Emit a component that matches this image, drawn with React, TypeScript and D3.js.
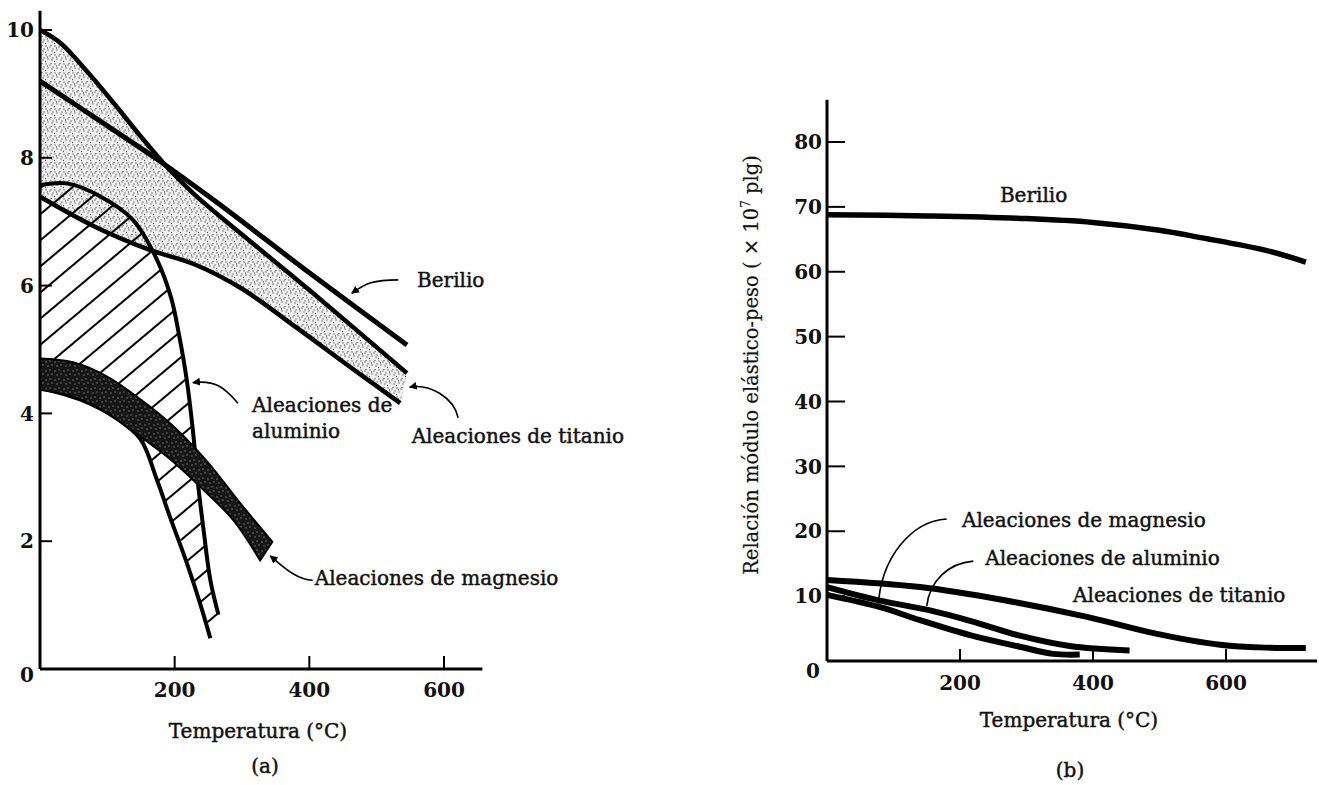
import React from "react";
import * as d3 from "d3";

// ---------- Panel (a) data: temperature (°C) vs ratio ----------
const tempTicksA = [200, 400, 600];
const ratioTicksA = [2, 4, 6, 8, 10];
const berilioA: [number, number][] = [[0, 9.2], [100, 8.5], [175, 7.97], [263, 7.3], [400, 6.2], [545, 5.07]];
const titanioUpperA: [number, number][] = [[0, 10.0], [30, 9.8], [70, 9.35], [110, 8.85], [150, 8.33], [190, 7.84], [230, 7.42], [300, 6.8], [400, 5.93], [545, 4.63]];
const titanioLowerA: [number, number][] = [[0, 7.39], [80, 6.93], [160, 6.57], [230, 6.33], [300, 5.95], [380, 5.35], [460, 4.73], [535, 4.16]];
const aluminioUpperA: [number, number][] = [[0, 7.57], [40, 7.6], [89, 7.4], [138, 7.03], [174, 6.4], [195, 5.8], [207, 5.2], [218, 4.52], [227, 3.74], [234, 2.96], [243, 2.17], [253, 1.39], [265, 0.85]];
const aluminioLowerA: [number, number][] = [[0, 4.4], [64, 4.2], [114, 3.92], [149, 3.6], [174, 2.95], [193, 2.38], [218, 1.66], [240, 0.95], [253, 0.48]];
const magnesioUpperA: [number, number][] = [[0, 4.86], [49, 4.8], [99, 4.58], [149, 4.22], [198, 3.8], [248, 3.25], [297, 2.6], [345, 1.99]];
const magnesioLowerA: [number, number][] = [[0, 4.37], [49, 4.26], [99, 4.01], [138, 3.72], [189, 3.32], [238, 2.85], [287, 2.33], [327, 1.7]];

// ---------- Panel (b) data ----------
const tempTicksB = [200, 400, 600];
const ratioTicksB = [10, 20, 30, 40, 50, 60, 70, 80];
const berilioB: [number, number][] = [[0, 68.8], [150, 68.6], [300, 68.2], [400, 67.6], [500, 66.4], [560, 65.3], [660, 63.3], [720, 61.5]];
const titanioB: [number, number][] = [[0, 12.5], [140, 11.4], [265, 9.4], [391, 6.8], [491, 4.3], [591, 2.5], [650, 2.1], [720, 2.0]];
const aluminioB: [number, number][] = [[0, 11.4], [80, 9.3], [155, 7.8], [215, 6.2], [290, 3.9], [365, 2.3], [455, 1.6]];
const magnesioB: [number, number][] = [[0, 10.2], [80, 8.3], [140, 6.3], [215, 4.0], [290, 2.2], [340, 1.1], [380, 1.0]];

const FONT = "'DejaVu Serif', 'Liberation Serif', serif";

export default function App() {
  const W = 1319, H = 785;
  const xA = d3.scaleLinear().domain([0, 600]).range([40, 444]);
  const yA = d3.scaleLinear().domain([0, 10]).range([669, 30]);
  const xB = d3.scaleLinear().domain([0, 600]).range([827, 1226]);
  const yB = d3.scaleLinear().domain([0, 80]).range([661, 142]);

  const gen = (xs: any, ys: any) =>
    d3.line<[number, number]>().x((d) => xs(d[0])).y((d) => ys(d[1])).curve(d3.curveCatmullRom.alpha(0.5));
  const lA = gen(xA, yA);
  const lB = gen(xB, yB);
  const band = (up: [number, number][], lo: [number, number][]) => {
    const a = lA(up) as string;
    const b = lA([...lo].reverse()) as string;
    return a + "L" + b.slice(1) + "Z";
  };

  // stipple dots (fixed texture tile)
  const stipDots = [[1, 1], [5, 2], [3, 5], [7, 6], [0.5, 7.5], [6, 0.5], [2.5, 3], [8, 4]];
  const speckDots = [[1, 2], [5, 1], [3, 6], [7, 5]];

  const leader = (xs: any, ys: any, from: [number, number], to: [number, number], c1: [number, number], c2: [number, number]) => {
    const fx = xs(from[0]), fy = ys(from[1]), tx = xs(to[0]), ty = ys(to[1]);
    return `M${fx},${fy} C${fx + c1[0]},${fy + c1[1]} ${tx + c2[0]},${ty + c2[1]} ${tx},${ty}`;
  };

  const txt = { fontFamily: FONT, fontSize: 20, fill: "#111", stroke: "#111", strokeWidth: 0.45 } as any;
  const tick = { fontFamily: FONT, fontSize: 20, fontWeight: "bold", fill: "#111" } as any;

  return (
    <svg width={W} height={H} style={{ position: "absolute", left: 0, top: 0, background: "#fff" }}>
      <defs>
        <pattern id="stip" width={9} height={9} patternUnits="userSpaceOnUse">
          <rect width={9} height={9} fill="#f0f0f0" />
          {stipDots.map((d, i) => (
            <circle key={i} cx={d[0]} cy={d[1]} r={0.65} fill="#555" />
          ))}
        </pattern>
        <pattern id="hatch" width={20} height={20} patternUnits="userSpaceOnUse" patternTransform="rotate(-40)">
          <line x1={0} y1={10} x2={20} y2={10} stroke="#000" strokeWidth={2} />
        </pattern>
        <pattern id="speck" width={9} height={9} patternUnits="userSpaceOnUse">
          <rect width={9} height={9} fill="#161616" />
          {speckDots.map((d, i) => (
            <circle key={i} cx={d[0]} cy={d[1]} r={0.7} fill="#8a8a8a" />
          ))}
        </pattern>
        <marker id="arr" viewBox="0 0 10 10" refX={9} refY={5} markerWidth={8} markerHeight={8} markerUnits="userSpaceOnUse" orient="auto">
          <path d="M0,0 L10,5 L0,10 z" fill="#000" />
        </marker>
      </defs>

      {/* ================= Panel (a) ================= */}
      <g>
        <path d={band(titanioUpperA, titanioLowerA)} fill="url(#stip)" />
        <path d={band(aluminioUpperA, aluminioLowerA)} fill="url(#hatch)" />
        <path d={lA(titanioUpperA) as string} fill="none" stroke="#000" strokeWidth={4.5} />
        <path d={lA(titanioLowerA) as string} fill="none" stroke="#000" strokeWidth={4.5} />
        <path d={lA(aluminioUpperA) as string} fill="none" stroke="#000" strokeWidth={4} />
        <path d={lA(aluminioLowerA) as string} fill="none" stroke="#000" strokeWidth={4} />
        <path d={band(magnesioUpperA, magnesioLowerA)} fill="url(#speck)" stroke="#000" strokeWidth={2} />
        <path d={lA(berilioA) as string} fill="none" stroke="#000" strokeWidth={5} />

        <line x1={xA(0)} y1={yA(10.3)} x2={xA(0)} y2={yA(0)} stroke="#000" strokeWidth={3} />
        <line x1={xA(0)} y1={yA(0)} x2={xA(657)} y2={yA(0)} stroke="#000" strokeWidth={3} />
        {ratioTicksA.map((t) => (
          <g key={t}>
            <line x1={xA(0)} x2={xA(0) + 12} y1={yA(t)} y2={yA(t)} stroke="#000" strokeWidth={2} />
            <text x={34} y={yA(t)} dy="0.36em" textAnchor="end" {...tick}>{t}</text>
          </g>
        ))}
        {tempTicksA.map((t) => (
          <g key={t}>
            <line x1={xA(t)} x2={xA(t)} y1={yA(0)} y2={yA(0) - 13} stroke="#000" strokeWidth={2} />
            <text x={xA(t)} y={697} textAnchor="middle" {...tick}>{t}</text>
          </g>
        ))}
        <text x={27} y={682} textAnchor="middle" {...tick}>0</text>
        <text x={258} y={738} textAnchor="middle" {...txt}>Temperatura (°C)</text>
        <text x={265} y={773} textAnchor="middle" {...txt}>(a)</text>

        <text x={xA(560)} y={yA(5.98)} {...txt}>Berilio</text>
        <path d={leader(xA, yA, [532, 6.09], [463, 5.88], [-25, 0], [14, -10])} fill="none" stroke="#000" strokeWidth={1.6} markerEnd="url(#arr)" />
        <text x={xA(315)} y={yA(4.02)} {...txt}>Aleaciones de</text>
        <text x={xA(315)} y={yA(3.61)} {...txt}>aluminio</text>
        <path d={leader(xA, yA, [294, 4.16], [227, 4.48], [-14, -16], [22, -3])} fill="none" stroke="#000" strokeWidth={1.6} markerEnd="url(#arr)" />
        <text x={xA(552)} y={yA(3.54)} {...txt}>Aleaciones de titanio</text>
        <path d={leader(xA, yA, [621, 3.93], [549, 4.41], [-4, -20], [20, -4])} fill="none" stroke="#000" strokeWidth={1.6} markerEnd="url(#arr)" />
        <text x={xA(408)} y={yA(1.31)} {...txt}>Aleaciones de magnesio</text>
        <path d={leader(xA, yA, [405, 1.39], [342, 1.77], [-16, 0], [12, 10])} fill="none" stroke="#000" strokeWidth={1.6} markerEnd="url(#arr)" />
      </g>

      {/* ================= Panel (b) ================= */}
      <g>
        <path d={lB(berilioB) as string} fill="none" stroke="#000" strokeWidth={5.5} />
        <path d={lB(titanioB) as string} fill="none" stroke="#000" strokeWidth={6} />
        <path d={lB(aluminioB) as string} fill="none" stroke="#000" strokeWidth={6} />
        <path d={lB(magnesioB) as string} fill="none" stroke="#000" strokeWidth={6} />

        <line x1={xB(0)} y1={yB(86.5)} x2={xB(0)} y2={yB(0)} stroke="#000" strokeWidth={3} />
        <line x1={xB(0)} y1={yB(0)} x2={xB(737)} y2={yB(0)} stroke="#000" strokeWidth={3} />
        {ratioTicksB.map((t) => (
          <g key={t}>
            <line x1={xB(0)} x2={xB(0) + 18} y1={yB(t)} y2={yB(t)} stroke="#000" strokeWidth={2} />
            <text x={822} y={yB(t)} dy="0.36em" textAnchor="end" {...tick}>{t}</text>
          </g>
        ))}
        {tempTicksB.map((t) => (
          <g key={t}>
            <line x1={xB(t)} x2={xB(t)} y1={yB(0)} y2={yB(0) - 12} stroke="#000" strokeWidth={2} />
            <text x={xB(t)} y={690} textAnchor="middle" {...tick}>{t}</text>
          </g>
        ))}
        <text x={813} y={678} textAnchor="middle" {...tick}>0</text>
        <text x={1069} y={727} textAnchor="middle" {...txt}>Temperatura (°C)</text>
        <text x={1070} y={777} textAnchor="middle" {...txt}>(b)</text>

        <text transform="translate(758,365) rotate(-90)" textAnchor="middle" {...txt} fontSize={19.5} strokeWidth={0.2}>
          Relación módulo elástico-peso ( × 10<tspan dy={-8} fontSize={12}>7</tspan><tspan dy={8}> plg)</tspan>
        </text>

        <text x={xB(260)} y={yB(70.7)} {...txt}>Berilio</text>
        <text x={xB(203)} y={yB(20.6)} {...txt}>Aleaciones de magnesio</text>
        <text x={xB(238)} y={yB(14.8)} {...txt}>Aleaciones de aluminio</text>
        <text x={xB(370)} y={yB(9.1)} {...txt}>Aleaciones de titanio</text>
        <path d={leader(xB, yB, [180, 21.9], [77, 8.2], [-35, 2], [2, -50])} fill="none" stroke="#000" strokeWidth={1.6} />
        <path d={leader(xB, yB, [220, 15.4], [150, 8.5], [-25, 2], [3, -25])} fill="none" stroke="#000" strokeWidth={1.6} />
      </g>
    </svg>
  );
}
